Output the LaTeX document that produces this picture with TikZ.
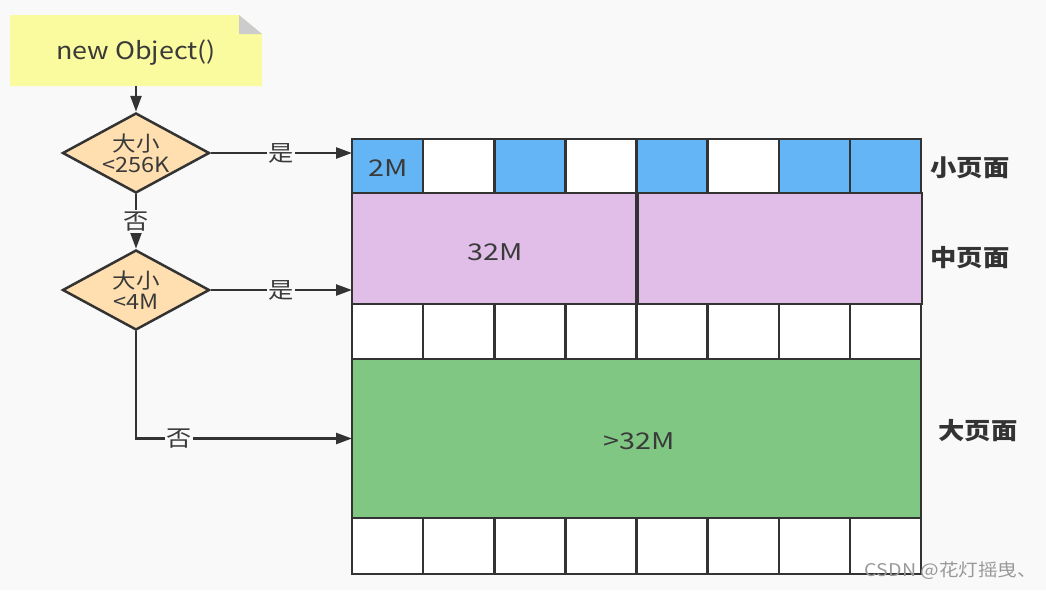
\documentclass[tikz,border=0pt]{standalone}
\usepackage{fontspec}
\setmainfont{Noto Sans CJK SC}[FakeStretch=1.12]
\newfontfamily\latf{Noto Sans CJK SC}[FakeStretch=1.25]
\usetikzlibrary{shapes.geometric,arrows.meta}
\definecolor{bg}{HTML}{F9F9F9}
\definecolor{lc}{HTML}{333333}
\definecolor{tc}{HTML}{3A3A3A}
\definecolor{noteY}{HTML}{FAFA9E}
\definecolor{foldG}{HTML}{CCCCCC}
\definecolor{dia}{HTML}{FFDFB0}
\definecolor{blu}{HTML}{64B5F6}
\definecolor{pur}{HTML}{E1BEE7}
\definecolor{grn}{HTML}{81C784}
\tikzset{
  notetxt/.style={text=tc, font=\fontsize{24}{28}\selectfont},
  celltxt/.style={text=tc, font=\latf\fontsize{23}{26}\selectfont},
  dec/.style={diamond, draw=lc, line width=2.5pt, fill=dia, inner sep=0pt, aspect=1.84,
    minimum width=147pt, minimum height=80pt, align=center, text=tc,
    font=\fontsize{21}{21}\selectfont},
  cell/.style={draw=lc, line width=2.5pt, inner sep=0pt, outer sep=0pt},
  arr/.style={draw=lc, line width=2.5pt, -{Triangle[length=16pt,width=11pt]}},
  lbl/.style={fill=bg, inner sep=1.5pt, text=tc, font=\fontsize{22.5}{24}\selectfont},
  side/.style={text=lc, font=\fontsize{23.5}{26}\selectfont\bfseries},
}
\begin{document}
\begin{tikzpicture}[x=1pt,y=-1pt]
\fill[bg] (0,0) rectangle (1046,590);
\useasboundingbox (0,0) rectangle (1046,590);
% note
\node[minimum width=252pt, minimum height=71pt, inner sep=0pt, outer sep=0pt] (note) at (136,50.5) {};
\fill[noteY] (note.north west) -- ([xshift=-23pt]note.north east) -- ([yshift=-19pt]note.north east) -- (note.south east) -- (note.south west) -- cycle;
\fill[foldG] ([xshift=-23pt]note.north east) -- ([xshift=-23pt,yshift=-19pt]note.north east) -- ([yshift=-19pt]note.north east) -- cycle;
\node[notetxt] (notetext) at (136,53) {new Object()};
% decisions
\node[dec] (d1) at (136,153) {大小\\<256K};
\node[dec] (d2) at (136,290) {大小\\<4M};
% small pages row
\foreach \c [count=\i] in {blu,white,blu,white,blu,white,blu,blu} {
  \node[cell, fill=\c, minimum width=71.125pt, minimum height=54pt] (s\i) at ({352+71.125*(\i-0.5)},166) {};
}
\node[celltxt] (lab2m) at (388,168) {2M};
% medium pages
\node[cell, fill=pur, minimum width=284.5pt, minimum height=111pt] (m1) at (494.25,248.5) {};
\node[cell, fill=pur, minimum width=284.5pt, minimum height=111pt] (m2) at (779.75,248.5) {};
\node[celltxt] (lab32) at (495,252) {32M};
% white row
\foreach \i in {1,...,8} {
  \node[cell, fill=white, minimum width=71.125pt, minimum height=55pt] (w\i) at ({352+71.125*(\i-0.5)},331.5) {};
}
% large page
\node[cell, fill=grn, minimum width=569pt, minimum height=159pt] (g) at (636.5,438.5) {};
\node[celltxt] (labbig) at (639,441) {>32M};
% bottom row
\foreach \i in {1,...,8} {
  \node[cell, fill=white, minimum width=71.125pt, minimum height=56pt] (b\i) at ({352+71.125*(\i-0.5)},546) {};
}
% side labels
\node[side] (ls) at (970,168) {小页面};
\node[side] (lm) at (970,258) {中页面};
\node[side] (ll) at (978,431) {大页面};
% connectors
\draw[arr] (note.south) -- (d1.north);
\draw[arr] (d1.south) -- node[lbl]{否} (d2.north);
\draw[arr] (d1.east) -- node[lbl]{是} (s1.west |- d1.east);
\draw[arr] (d2.east) -- node[lbl]{是} (m1.west |- d2.east);
\draw[arr] (d2.south) |- node[lbl, pos=0.6]{否} (g.west);
% watermark
\node[text=gray!80, font=\fontsize{17.5}{19}\selectfont] (wm) at (951,571) {CSDN @花灯摇曳、};
\end{tikzpicture}
\end{document}
